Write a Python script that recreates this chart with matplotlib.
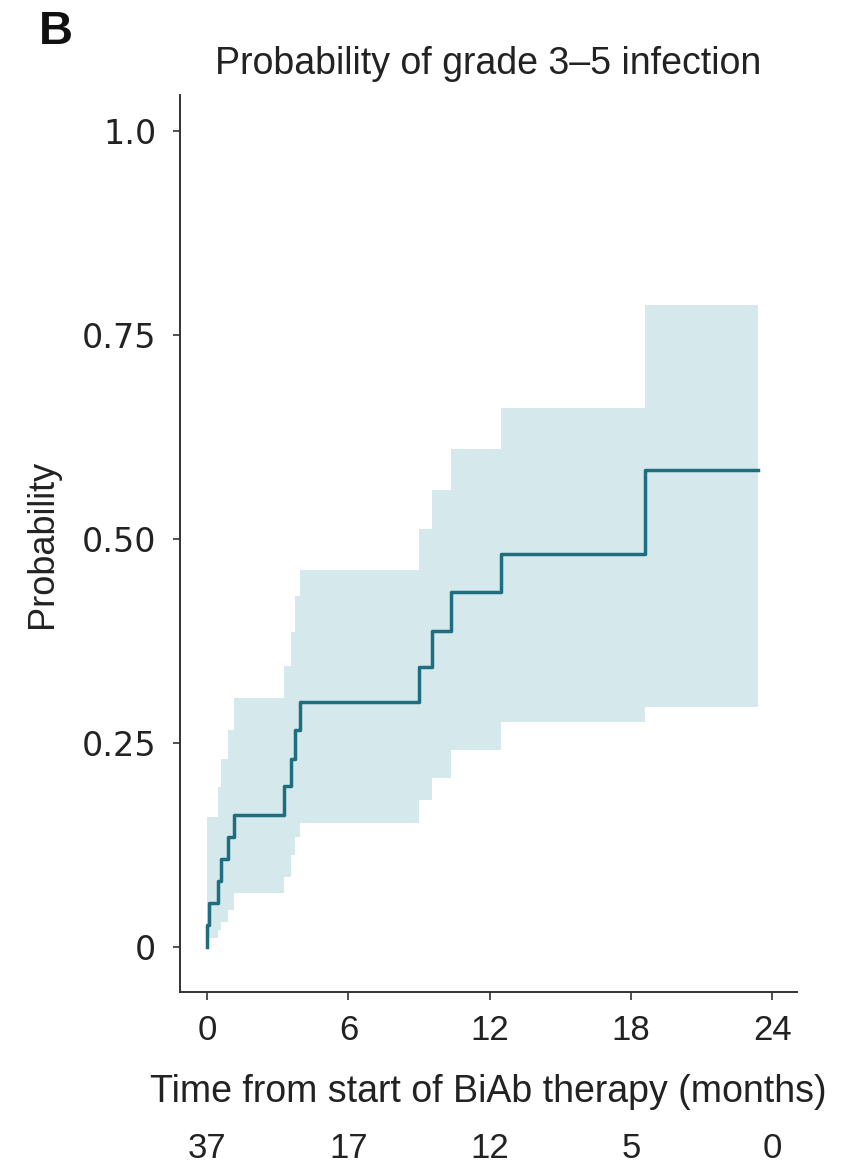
import matplotlib
matplotlib.use("Agg")
import matplotlib.pyplot as plt
from matplotlib import font_manager
from matplotlib.transforms import blended_transform_factory

# event times (months) and cumulative incidence with 95% CI
event_times = [0, 0.1, 0.45, 0.6, 0.9, 1.15, 3.25, 3.55, 3.75, 3.95,
               9.0, 9.55, 10.35, 12.5, 18.6]
prob = [0.027, 0.054, 0.081, 0.108, 0.135, 0.162, 0.197, 0.231, 0.266, 0.300,
        0.343, 0.387, 0.435, 0.482, 0.585]
ci_low = [0.004, 0.011, 0.021, 0.031, 0.045, 0.066, 0.086, 0.113, 0.135, 0.152,
          0.180, 0.207, 0.241, 0.276, 0.294]
ci_high = [0.160, 0.160, 0.196, 0.231, 0.266, 0.305, 0.345, 0.386, 0.430, 0.462,
           0.512, 0.560, 0.610, 0.660, 0.787]
end_time = 23.4

xticks = [0, 6, 12, 18, 24]
at_risk = [37, 17, 12, 5, 0]
yticks = [0, 0.25, 0.50, 0.75, 1.0]
ytick_labels = ["0", "0.25", "0.50", "0.75", "1.0"]

line_color = "#1f6e7f"
band_color = "#d5e8ec"
text_color = "#222222"

names = {f.name for f in font_manager.fontManager.ttflist}
narrow = "Liberation Sans Narrow" if "Liberation Sans Narrow" in names else "Liberation Sans"

fig = plt.figure(figsize=(8.51, 11.70), dpi=100)
ax = fig.add_axes([0.2115, 0.1521, 0.7251, 0.7667])

t_band = event_times + [end_time]
lo = ci_low + [ci_low[-1]]
hi = ci_high + [ci_high[-1]]
ax.fill_between(t_band, lo, hi, step="post", color=band_color, linewidth=0)

t_line = [0] + event_times + [end_time]
p_line = [0] + prob + [prob[-1]]
ax.step(t_line, p_line, where="post", color=line_color, lw=2.5)

ax.set_xlim(-1.15, 25.05)
ax.set_ylim(-0.055, 1.044)

for s in ["top", "right"]:
    ax.spines[s].set_visible(False)
for s in ["left", "bottom"]:
    ax.spines[s].set_linewidth(1.4)
    ax.spines[s].set_color("#333333")

ax.set_xticks(xticks)
ax.set_xticklabels([str(x) for x in xticks], fontfamily=narrow, fontsize=25, color=text_color)
ax.set_yticks(yticks)
ax.set_yticklabels(ytick_labels, fontfamily="DejaVu Sans", fontsize=24, color=text_color)
ax.tick_params(axis="x", length=6, width=1.2, pad=10, colors="#333333", labelcolor=text_color)
ax.tick_params(axis="y", length=5, width=1.2, pad=12, colors="#333333", labelcolor=text_color)

ax.set_xlabel("Time from start of BiAb therapy (months)", fontfamily=narrow,
              fontsize=27, color=text_color, labelpad=19)
ax.set_ylabel("Probability", fontfamily=narrow, fontsize=26, color=text_color, labelpad=16)
ax.set_title("Probability of grade 3\u20135 infection", fontfamily=narrow,
             fontsize=27, color=text_color, pad=15)

# numbers at risk under the axis
trans = blended_transform_factory(ax.transData, fig.transFigure)
for x, n in zip(xticks, at_risk):
    fig.text(x, 1 - 1148 / 1170, str(n), transform=trans, ha="center", va="center",
             fontfamily=narrow, fontsize=25, color=text_color)

fig.text(39 / 851, 1 - 32 / 1170, "B", fontfamily="Liberation Sans", fontweight="bold",
         fontsize=34, color="#111111", ha="left", va="center")

fig.savefig("out.png", dpi=100, facecolor="white")
